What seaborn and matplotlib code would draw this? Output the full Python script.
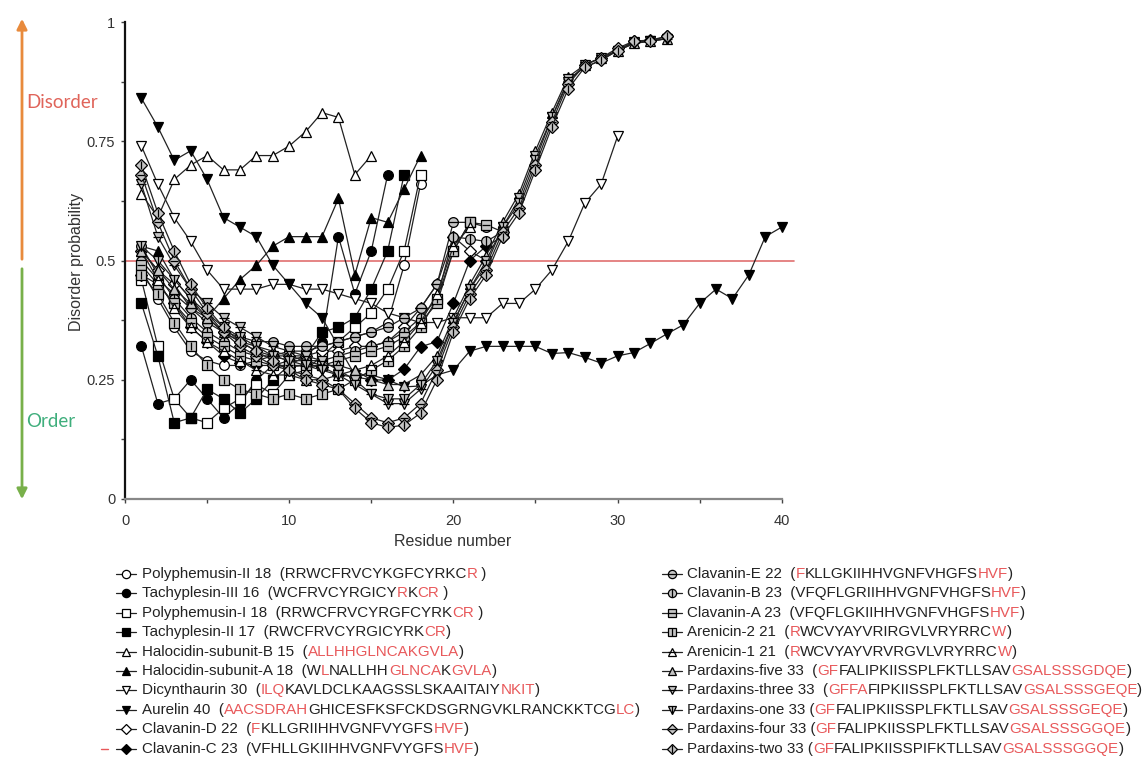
import matplotlib
matplotlib.use("Agg")
import matplotlib.pyplot as plt
import seaborn as sns
import numpy as np
from matplotlib.lines import Line2D
from matplotlib import font_manager
from matplotlib.font_manager import FontProperties

# ---------------- data ----------------
names = ["Polyphemusin-II", "Tachyplesin-III", "Polyphemusin-I", "Tachyplesin-II",
         "Halocidin-subunit-B", "Halocidin-subunit-A", "Dicynthaurin", "Aurelin",
         "Clavanin-D", "Clavanin-C", "Clavanin-E", "Clavanin-B", "Clavanin-A",
         "Arenicin-2", "Arenicin-1", "Pardaxins-five", "Pardaxins-three",
         "Pardaxins-one", "Pardaxins-four", "Pardaxins-two"]

polyphemusin_II = [0.48, 0.42, 0.36, 0.31, 0.29, 0.28, 0.28, 0.29, 0.30, 0.31, 0.31, 0.32,
                   0.33, 0.34, 0.35, 0.37, 0.49, 0.66]
tachyplesin_III = [0.32, 0.20, 0.21, 0.25, 0.21, 0.17, 0.20, 0.25, 0.28, 0.29, 0.30, 0.33,
                   0.55, 0.43, 0.52, 0.68]
polyphemusin_I = [0.46, 0.32, 0.21, 0.17, 0.16, 0.19, 0.21, 0.24, 0.22, 0.26, 0.27, 0.30,
                  0.33, 0.36, 0.39, 0.44, 0.52, 0.68]
tachyplesin_II = [0.41, 0.30, 0.16, 0.17, 0.23, 0.21, 0.18, 0.21, 0.25, 0.28, 0.30, 0.35,
                  0.36, 0.38, 0.44, 0.52, 0.68]
halocidin_B = [0.64, 0.59, 0.67, 0.70, 0.72, 0.69, 0.69, 0.72, 0.72, 0.74, 0.77, 0.81,
               0.80, 0.68, 0.72]
halocidin_A = [0.53, 0.52, 0.46, 0.42, 0.38, 0.42, 0.46, 0.49, 0.53, 0.55, 0.55, 0.55,
               0.63, 0.47, 0.59, 0.58, 0.65, 0.72]
dicynthaurin = [0.74, 0.66, 0.59, 0.54, 0.48, 0.44, 0.44, 0.44, 0.45, 0.45, 0.44, 0.44,
                0.43, 0.42, 0.41, 0.39, 0.38, 0.37, 0.37, 0.38, 0.38, 0.38, 0.41, 0.41,
                0.44, 0.48, 0.54, 0.62, 0.66, 0.76]
aurelin = [0.84, 0.78, 0.71, 0.73, 0.67, 0.59, 0.57, 0.55, 0.49, 0.45, 0.41, 0.38,
           0.32, 0.26, 0.26, 0.25, 0.235, 0.237, 0.26, 0.27, 0.31, 0.32, 0.32, 0.32,
           0.32, 0.305, 0.307, 0.297, 0.285, 0.30, 0.307, 0.326, 0.346, 0.365, 0.41,
           0.44, 0.42, 0.47, 0.55, 0.57]
clavanin_D = [0.52, 0.48, 0.45, 0.40, 0.38, 0.35, 0.33, 0.31, 0.30, 0.30, 0.30, 0.31,
              0.31, 0.32, 0.32, 0.33, 0.36, 0.40, 0.45, 0.55, 0.52, 0.50]
clavanin_C = [0.47, 0.45, 0.41, 0.36, 0.33, 0.30, 0.285, 0.28, 0.28, 0.277, 0.28, 0.277,
              0.26, 0.256, 0.25, 0.249, 0.272, 0.319, 0.33, 0.41, 0.50, 0.53, 0.55]
clavanin_E = [0.50, 0.46, 0.43, 0.40, 0.37, 0.35, 0.34, 0.33, 0.33, 0.32, 0.32, 0.32,
              0.33, 0.34, 0.35, 0.36, 0.38, 0.40, 0.45, 0.58, 0.58, 0.57]
clavanin_B = [0.53, 0.47, 0.42, 0.38, 0.35, 0.33, 0.31, 0.30, 0.30, 0.29, 0.29, 0.29,
              0.30, 0.31, 0.32, 0.33, 0.35, 0.38, 0.42, 0.55, 0.545, 0.54, 0.56]
clavanin_A = [0.49, 0.45, 0.41, 0.37, 0.34, 0.32, 0.30, 0.29, 0.28, 0.28, 0.28, 0.28,
              0.29, 0.30, 0.31, 0.32, 0.34, 0.37, 0.41, 0.52, 0.58, 0.575, 0.56]
arenicin_2 = [0.47, 0.43, 0.37, 0.32, 0.28, 0.25, 0.23, 0.22, 0.21, 0.22, 0.21, 0.22,
              0.23, 0.25, 0.27, 0.29, 0.32, 0.36, 0.42, 0.52, 0.58]
arenicin_1 = [0.52, 0.46, 0.40, 0.36, 0.33, 0.31, 0.29, 0.27, 0.26, 0.26, 0.25, 0.25,
              0.26, 0.27, 0.28, 0.30, 0.33, 0.37, 0.43, 0.53, 0.57]
pardaxins_five = [0.52, 0.48, 0.44, 0.41, 0.38, 0.35, 0.33, 0.32, 0.31, 0.30, 0.29, 0.28,
                  0.28, 0.27, 0.25, 0.24, 0.24, 0.26, 0.30, 0.38, 0.45, 0.51, 0.58, 0.64,
                  0.73, 0.81, 0.885, 0.91, 0.925, 0.94, 0.955, 0.96, 0.965]
pardaxins_three = [0.66, 0.55, 0.49, 0.44, 0.41, 0.38, 0.36, 0.34, 0.32, 0.31, 0.30, 0.29,
                   0.27, 0.25, 0.22, 0.20, 0.20, 0.23, 0.28, 0.37, 0.44, 0.50, 0.57, 0.63,
                   0.72, 0.80, 0.88, 0.905, 0.92, 0.94, 0.955, 0.96, 0.965]
pardaxins_one = [0.53, 0.50, 0.46, 0.42, 0.39, 0.36, 0.34, 0.32, 0.30, 0.29, 0.28, 0.27,
                 0.26, 0.24, 0.22, 0.21, 0.21, 0.24, 0.29, 0.37, 0.44, 0.49, 0.57, 0.62,
                 0.71, 0.80, 0.875, 0.91, 0.925, 0.94, 0.958, 0.96, 0.965]
pardaxins_four = [0.68, 0.58, 0.50, 0.44, 0.39, 0.35, 0.32, 0.30, 0.28, 0.27, 0.26, 0.25,
                  0.23, 0.20, 0.17, 0.16, 0.17, 0.20, 0.27, 0.36, 0.43, 0.48, 0.56, 0.61,
                  0.70, 0.79, 0.87, 0.91, 0.925, 0.945, 0.96, 0.962, 0.97]
pardaxins_two = [0.70, 0.60, 0.52, 0.45, 0.40, 0.36, 0.33, 0.31, 0.29, 0.27, 0.25, 0.24,
                 0.23, 0.19, 0.16, 0.15, 0.155, 0.18, 0.25, 0.35, 0.42, 0.47, 0.55, 0.60,
                 0.69, 0.78, 0.86, 0.905, 0.92, 0.94, 0.96, 0.96, 0.97]

series_values = [polyphemusin_II, tachyplesin_III, polyphemusin_I, tachyplesin_II,
                 halocidin_B, halocidin_A, dicynthaurin, aurelin, clavanin_D, clavanin_C,
                 clavanin_E, clavanin_B, clavanin_A, arenicin_2, arenicin_1,
                 pardaxins_five, pardaxins_three, pardaxins_one, pardaxins_four,
                 pardaxins_two]

x_ticks = [0, 10, 20, 30, 40]
y_ticks = [0, 0.25, 0.5, 0.75, 1]
y_tick_labels = ["0", "0.25", "0.5", "0.75", "1"]
threshold = 0.5

# legend texts: list of (segment, is_red)
legend_texts = [
    [("Polyphemusin-II 18  (RRWCFRVCYKGFCYRKC", 0), ("R", 1), (" )", 0)],
    [("Tachyplesin-III 16  (WCFRVCYRGICY", 0), ("R", 1), ("K", 0), ("CR", 1), (" )", 0)],
    [("Polyphemusin-I 18  (RRWCFRVCYRGFCYRK", 0), ("CR", 1), (" )", 0)],
    [("Tachyplesin-II 17  (RWCFRVCYRGICYRK", 0), ("CR", 1), (")", 0)],
    [("Halocidin-subunit-B 15  (", 0), ("ALLHHGLNCAKGVLA", 1), (")", 0)],
    [("Halocidin-subunit-A 18  (W", 0), ("L", 1), ("NALLHH", 0), ("GLNCA", 1), ("K", 0),
     ("GVLA", 1), (")", 0)],
    [("Dicynthaurin 30  (", 0), ("ILQ", 1), ("KAVLDCLKAAGSSLSKAAITAIY", 0), ("NKIT", 1), (")", 0)],
    [("Aurelin 40  (", 0), ("AACSDRAH", 1), ("GHICESFKSFCKDSGRNGVKLRANCKKTCG", 0), ("LC", 1), (")", 0)],
    [("Clavanin-D 22  (", 0), ("F", 1), ("KLLGRIIHHVGNFVYGFS", 0), ("HVF", 1), (")", 0)],
    [("Clavanin-C 23  (VFHLLGKIIHHVGNFVYGFS", 0), ("HVF", 1), (")", 0)],
    [("Clavanin-E 22  (", 0), ("F", 1), ("KLLGKIIHHVGNFVHGFS", 0), ("HVF", 1), (")", 0)],
    [("Clavanin-B 23  (VFQFLGRIIHHVGNFVHGFS", 0), ("HVF", 1), (")", 0)],
    [("Clavanin-A 23  (VFQFLGKIIHHVGNFVHGFS", 0), ("HVF", 1), (")", 0)],
    [("Arenicin-2 21  (", 0), ("R", 1), ("WCVYAYVRIRGVLVRYRRC", 0), ("W", 1), (")", 0)],
    [("Arenicin-1 21  (", 0), ("R", 1), ("WCVYAYVRVRGVLVRYRRC", 0), ("W", 1), (")", 0)],
    [("Pardaxins-five 33  (", 0), ("GF", 1), ("FALIPKIISSPLFKTLLSAV", 0), ("GSALSSSGDQE", 1), (")", 0)],
    [("Pardaxins-three 33  (", 0), ("GFFA", 1), ("FIPKIISSPLFKTLLSAV", 0), ("GSALSSSGEQE", 1), (")", 0)],
    [("Pardaxins-one 33 (", 0), ("GF", 1), ("FALIPKIISSPLFKTLLSAV", 0), ("GSALSSSGEQE", 1), (")", 0)],
    [("Pardaxins-four 33 (", 0), ("GF", 1), ("FALIPKIISSPLFKTLLSAV", 0), ("GSALSSSGGQE", 1), (")", 0)],
    [("Pardaxins-two 33 (", 0), ("GF", 1), ("FALIPKIISSPIFKTLLSAV", 0), ("GSALSSSGGQE", 1), (")", 0)],
]

# ---------------- styles ----------------
GRAY = "#c4c4c4"
styles = [  # marker, face, stripe, size
    ("o", "white", None, 7), ("o", "black", None, 7),
    ("s", "white", None, 6.5), ("s", "black", None, 6.5),
    ("^", "white", None, 7.5), ("^", "black", None, 7.5),
    ("v", "white", None, 7.5), ("v", "black", None, 7.5),
    ("D", "white", None, 6), ("D", "black", None, 6),
    ("o", GRAY, "_", 7), ("o", GRAY, "|", 7),
    ("s", GRAY, "_", 6.5), ("s", GRAY, "|", 6.5),
    ("^", "white", "_", 7.5), ("^", GRAY, None, 7.5),
    ("v", GRAY, "_", 7.5), ("v", GRAY, "|", 7.5),
    ("D", GRAY, "_", 6.5), ("D", GRAY, "|", 6.5),
]

W, H = 1146, 772
sns.set_theme(style="white")
avail = {f.name for f in font_manager.fontManager.ttflist}
NARROW = "Liberation Sans Narrow" if "Liberation Sans Narrow" in avail else "Liberation Sans"
plt.rcParams["font.family"] = [NARROW, "DejaVu Sans"]

fig = plt.figure(figsize=(W / 100, H / 100), dpi=100)
fig.patch.set_facecolor("white")
ax = fig.add_axes([125 / W, 1 - 499 / H, (781.7 - 125) / W, (499 - 22) / H])
ax.set_facecolor("white")

for vals, (m, fc, stripe, ms) in zip(series_values, styles):
    xs = np.arange(1, len(vals) + 1)
    sns.lineplot(x=xs, y=vals, ax=ax, color="#222222", linewidth=0.9, marker=m,
                 markersize=ms, markerfacecolor=fc, markeredgecolor="black",
                 markeredgewidth=0.9, clip_on=False)
    if stripe:
        ax.plot(xs, vals, linestyle="none", marker=stripe, color="black",
                markersize=ms * 0.95, markeredgewidth=0.9, clip_on=False)

ax.axhline(threshold, xmin=0, xmax=1.018, color="#e07070", linewidth=1.2,
           clip_on=False, zorder=0.5)

ax.set_xlim(0, 40)
ax.set_ylim(0, 1)
ax.set_xticks(x_ticks)
ax.set_xticks([5, 15, 25, 35], minor=True)
ax.set_yticks(y_ticks)
ax.set_yticklabels(y_tick_labels)
ax.set_yticks([0.125, 0.375, 0.625, 0.875], minor=True)
ax.tick_params(axis="both", which="both", direction="out", length=3, width=1,
               color="#444444", labelsize=10.5, labelcolor="#333333",
               bottom=True, left=True)
ax.tick_params(axis="x", pad=8)
ax.tick_params(axis="y", pad=4)
for s in ["top", "right"]:
    ax.spines[s].set_visible(False)
ax.spines["left"].set_color("#111111")
ax.spines["left"].set_linewidth(1.6)
ax.spines["bottom"].set_color("#888888")
ax.spines["bottom"].set_linewidth(1.6)
ax.set_xlabel("")
ax.set_ylabel("")

fig.text(453 / W, 1 - 541 / H, "Residue number", ha="center", va="center",
         fontsize=11.5, color="#333333")
fig.text(76 / W, 1 - 262 / H, "Disorder probability", ha="center", va="center",
         rotation=90, fontsize=11.5, color="#333333")

# Disorder / Order arrows
fig.add_artist(matplotlib.patches.FancyArrowPatch(
    (22 / W, 1 - 262 / H), (22 / W, 1 - 16 / H), transform=fig.transFigure,
    arrowstyle="-|>,head_length=6,head_width=3", color="#e88a3c", linewidth=2))
fig.add_artist(matplotlib.patches.FancyArrowPatch(
    (22 / W, 1 - 266 / H), (22 / W, 1 - 502 / H), transform=fig.transFigure,
    arrowstyle="-|>,head_length=6,head_width=3", color="#78b04a", linewidth=2))
fig.text(26 / W, 1 - 103 / H, "Disorder", ha="left", va="center", fontsize=13.5,
         color="#e0645a", family=["Lato", "DejaVu Sans"])
fig.text(26 / W, 1 - 421 / H, "Order", ha="left", va="center", fontsize=13.5,
         color="#3fae7c", family=["Lato", "DejaVu Sans"])

# ---------------- legend ----------------
renderer = fig.canvas.get_renderer()
fp = FontProperties(family=[NARROW, "DejaVu Sans"], size=12)


def width_px(s, prop):
    w1 = renderer.get_text_width_height_descent("|" + s + "|", prop, ismath=False)[0]
    w0 = renderer.get_text_width_height_descent("||", prop, ismath=False)[0]
    return w1 - w0


# scale the legend font so the Aurelin row spans the same width as in the source
aurelin_w = sum(width_px(s, fp) for s, _ in legend_texts[7])
fp = FontProperties(family=[NARROW, "DejaVu Sans"], size=12 * 498 / aurelin_w)

RED = "#e8595b"
row_y = [574 + 19.4 * i for i in range(10)]
for i, (segs, (m, fc, stripe, ms)) in enumerate(zip(legend_texts, styles)):
    col = i // 10
    r = i % 10
    hx0 = 116 if col == 0 else 662
    tx = 142 if col == 0 else 687
    y = row_y[r]
    yf = 1 - y / H
    xs = [hx0 / W, (hx0 + 10) / W, (hx0 + 20) / W]
    fig.add_artist(Line2D(xs, [yf] * 3, transform=fig.transFigure, color="#222222",
                          linewidth=0.9, marker=m, markevery=[1], markersize=ms * 0.85,
                          markerfacecolor=fc, markeredgecolor="black",
                          markeredgewidth=0.9))
    if stripe:
        fig.add_artist(Line2D([xs[1]], [yf], transform=fig.transFigure,
                              linestyle="none", marker=stripe, color="black",
                              markersize=ms * 0.8, markeredgewidth=0.9))
    x = tx
    for seg, red in segs:
        fig.text(x / W, yf, seg, ha="left", va="center", fontproperties=fp,
                 color=RED if red else "#222222")
        x += width_px(seg, fp)

# small red dash before Clavanin-C
fig.add_artist(Line2D([101 / W, 108 / W], [1 - row_y[9] / H] * 2,
                      transform=fig.transFigure, color="#e8595b", linewidth=1))

fig.savefig("out.png", dpi=100, facecolor="white")
